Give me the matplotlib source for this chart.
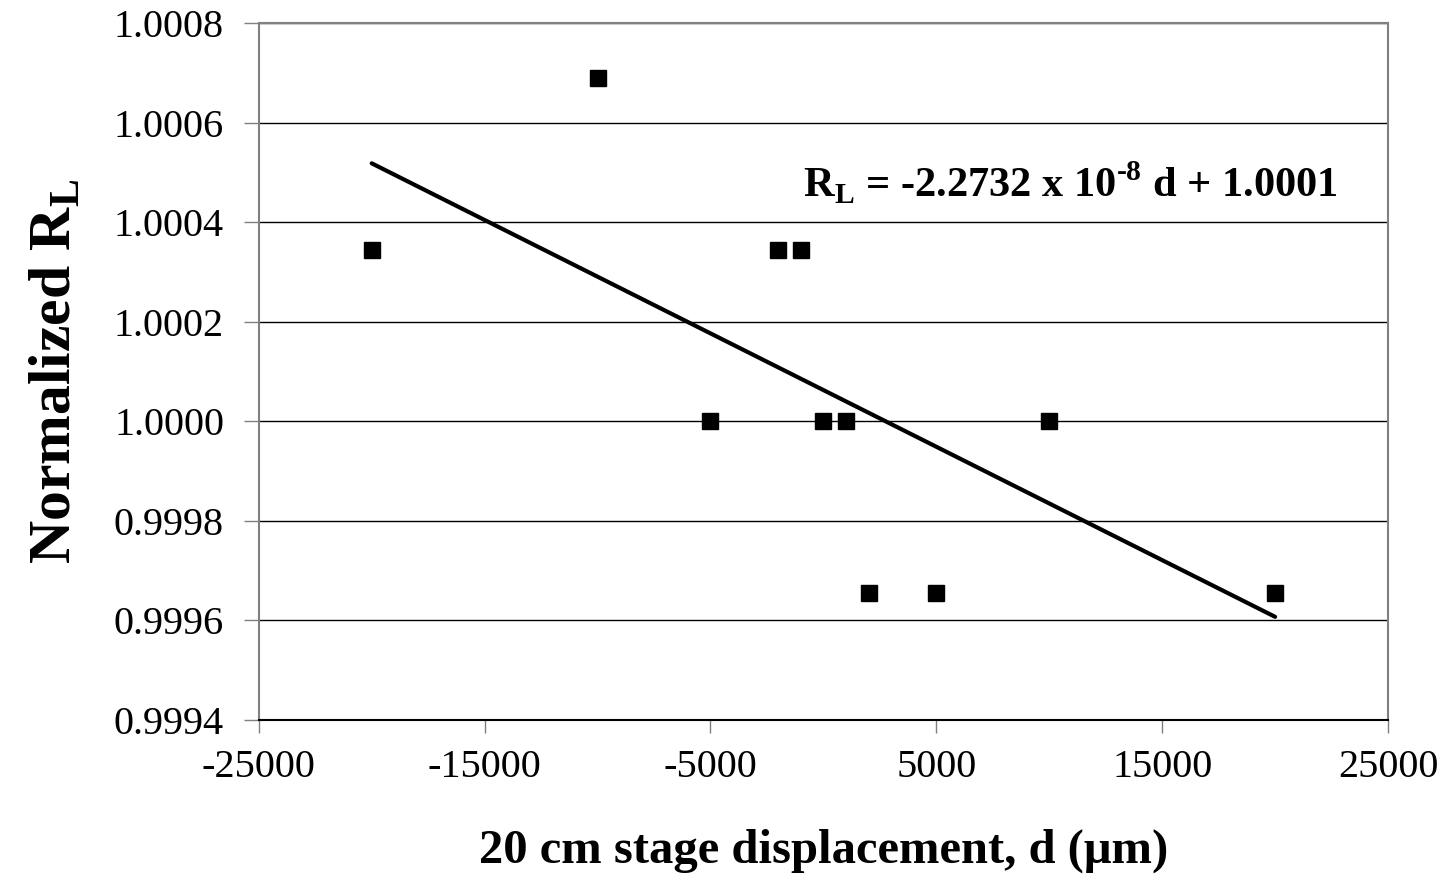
import matplotlib
matplotlib.use("Agg")
import matplotlib.pyplot as plt
import numpy as np

# stage displacement d (um) and normalized R_L
displacement = np.array([-20000, -10000, -5000, -2000, -1000, 0, 1000, 2000, 5000, 10000, 20000])
norm_rl = np.array([1.000345, 1.00069, 1.0, 1.000345, 1.000345, 1.0, 1.0,
                    0.999655, 0.999655, 1.0, 0.999655])

x_ticks = [-25000, -15000, -5000, 5000, 15000, 25000]
y_ticks = [0.9994, 0.9996, 0.9998, 1.0000, 1.0002, 1.0004, 1.0006, 1.0008]

plt.rcParams['font.family'] = ['Liberation Serif', 'DejaVu Serif']
plt.rcParams['mathtext.fontset'] = 'custom'
# all math in this figure is bold
plt.rcParams['mathtext.rm'] = 'Liberation Serif:bold'
plt.rcParams['mathtext.bf'] = 'Liberation Serif:bold'

fig = plt.figure(figsize=(14.54, 8.92), dpi=100)
ax = fig.add_axes([0.178, 0.193, 0.9546 - 0.178, 0.974 - 0.193])

# linear trendline
slope, intercept = np.polyfit(displacement, norm_rl, 1)
xfit = np.array([displacement.min(), displacement.max()])
ax.plot(xfit, slope * xfit + intercept, color='black', lw=3, solid_capstyle='round', zorder=3)

ax.plot(displacement, norm_rl, 's', color='black', markersize=12, zorder=4)

ax.set_xlim(-25000, 25000)
ax.set_ylim(0.9994, 1.0008)
ax.set_xticks(x_ticks)
ax.set_yticks(y_ticks)
ax.set_yticklabels([f'{v:.4f}' for v in y_ticks])
ax.set_xticklabels([str(v) for v in x_ticks])
ax.yaxis.grid(True, color='black', lw=1)
ax.set_axisbelow(True)

for side in ['top', 'right', 'left']:
    ax.spines[side].set_color('#808080')
    ax.spines[side].set_linewidth(1.5)
ax.spines['bottom'].set_color('black')
ax.spines['bottom'].set_linewidth(1.5)

ax.tick_params(axis='y', direction='out', length=11, width=1, color='#808080', pad=14, labelsize=29)
ax.tick_params(axis='x', direction='out', length=9, width=1, color='#808080', pad=12, labelsize=29)

ax.set_xlabel('20 cm stage displacement, d (\u03bcm)', fontsize=35, fontweight='bold', labelpad=31)
ax.set_ylabel(r'Normalized R$_\mathrm{L}$', fontsize=43, fontweight='bold', labelpad=22)

ax.text(-900, 1.00048, r'R$_\mathrm{L}$ = -2.2732 x 10$^{\text{-8}}$ d + 1.0001',
        fontsize=30.5, fontweight='bold', va='center', ha='left')

fig.savefig('out.png', dpi=100)
